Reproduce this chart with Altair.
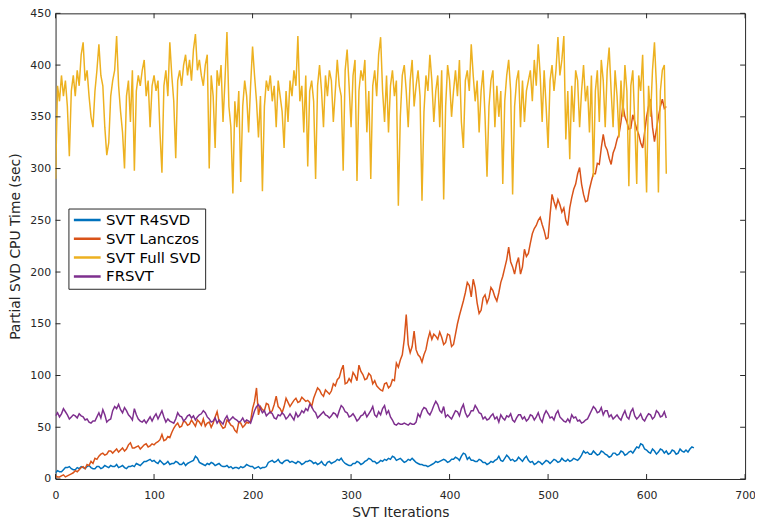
import altair as alt
import pandas as pd

# ---- data (one value every few iterations) ----
series_names = ["SVT R4SVD", "SVT Lanczos", "SVT Full SVD", "FRSVT"]
series_colors = ["#0072BD", "#D95319", "#EDB120", "#7E2F8E"]

r4svd_step = 2
r4svd = [6, 8, 7, 7, 9, 11, 11, 12, 10, 9, 9, 11, 10, 12, 11, 10, 12, 13, 11, 10,
         10, 12, 12, 10, 11, 13, 12, 11, 13, 12, 12, 14, 11, 12, 13, 11, 10, 12, 12, 13,
         12, 15, 14, 13, 15, 17, 17, 18, 19, 17, 18, 16, 15, 18, 16, 14, 15, 17, 14, 15,
         15, 17, 16, 14, 14, 16, 13, 15, 16, 17, 18, 22, 20, 16, 15, 14, 13, 15, 14, 16,
         15, 13, 14, 15, 13, 12, 12, 13, 11, 12, 10, 11, 11, 10, 12, 11, 12, 14, 13, 12,
         12, 10, 11, 12, 10, 11, 11, 12, 16, 17, 18, 16, 17, 19, 16, 15, 17, 18, 18, 16,
         17, 16, 15, 17, 16, 14, 15, 17, 17, 18, 17, 15, 16, 14, 15, 17, 14, 13, 16, 17,
         15, 16, 17, 19, 18, 20, 17, 15, 14, 13, 13, 15, 15, 17, 16, 14, 15, 17, 18, 20,
         19, 17, 17, 15, 16, 18, 17, 19, 18, 20, 19, 22, 21, 18, 19, 20, 18, 16, 17, 19,
         18, 20, 18, 16, 15, 14, 14, 13, 13, 12, 13, 14, 15, 17, 16, 17, 18, 19, 18, 16,
         17, 19, 19, 21, 20, 18, 22, 25, 24, 19, 21, 18, 18, 17, 17, 19, 18, 16, 16, 14,
         15, 17, 16, 18, 19, 22, 18, 17, 20, 23, 21, 18, 19, 17, 18, 21, 19, 17, 20, 22,
         18, 16, 17, 14, 15, 17, 16, 14, 16, 18, 17, 15, 17, 19, 18, 16, 17, 20, 18, 17,
         19, 17, 18, 20, 19, 18, 20, 23, 27, 25, 26, 24, 24, 27, 25, 23, 24, 27, 26, 24,
         23, 21, 22, 25, 25, 23, 24, 27, 26, 23, 24, 26, 27, 25, 28, 31, 30, 34, 33, 29,
         28, 26, 25, 29, 27, 24, 26, 29, 28, 25, 27, 24, 25, 28, 27, 24, 25, 29, 27, 26,
         28, 26, 29, 31, 30]

lanczos_step = 2
lanczos = [3, 2, 2, 3, 4, 2, 3, 4, 5, 6,
           8, 7, 9, 11, 12, 10, 14, 13, 17, 15,
           20, 19, 22, 24, 25, 23, 24, 27, 27, 25,
           27, 29, 26, 28, 30, 27, 29, 33, 35, 30,
           30, 31, 32, 29, 31, 33, 34, 31, 32, 34,
           33, 35, 36, 38, 43, 37, 38, 41, 40, 45,
           49, 52, 54, 50, 51, 56, 55, 52, 53, 57,
           54, 51, 57, 55, 52, 58, 51, 54, 55, 50,
           54, 60, 65, 56, 52, 49, 50, 57, 55, 52,
           51, 47, 45, 55, 54, 50, 52, 55, 54, 56,
           68, 75, 88, 62, 70, 67, 66, 73, 72, 64,
           66, 72, 80, 70, 68, 64, 70, 78, 74, 70,
           73, 76, 78, 74, 75, 79, 77, 75, 76, 74,
           70, 78, 83, 88, 86, 82, 80, 86, 84, 82,
           85, 92, 90, 96, 98, 105, 110, 92, 93, 97,
           94, 103, 100, 95, 110, 104, 101, 96, 97, 102,
           100, 92, 95, 90, 88, 86, 85, 92, 93, 88,
           90, 96, 95, 112, 108, 115, 120, 135, 159, 130,
           122, 128, 143, 125, 120, 118, 113, 120, 125, 135,
           142, 135, 140, 138, 135, 142, 137, 130, 132, 140,
           139, 128, 130, 140, 150, 158, 165, 172, 180, 190,
           187, 176, 193, 185, 170, 160, 163, 175, 178, 170,
           175, 185, 182, 176, 172, 180, 190, 196, 204, 212,
           224, 210, 205, 198, 208, 214, 198, 205, 222, 215,
           218, 228, 237, 242, 245, 250, 253, 246, 240, 232,
           233, 255, 275, 268, 262, 270, 265, 258, 262, 250,
           245, 262, 272, 280, 285, 295, 301, 285, 275, 268,
           269, 280, 288, 295, 295, 305, 304, 320, 333, 322,
           318, 310, 304, 315, 320, 328, 333, 345, 361, 350,
           345, 338, 339, 352, 345, 338, 333, 325, 320, 335,
           350, 360, 367, 340, 326, 338, 350, 360, 367, 358,
           360]

fullsvd_step = 2
fullsvd = [290, 380, 365, 390, 370, 385, 360, 312, 375, 390,
           370, 395, 380, 410, 422, 385, 395, 370, 350, 340,
           375, 395, 420, 390, 380, 340, 313, 325, 370, 385,
           395, 428, 380, 355, 335, 300, 370, 385, 345, 395,
           298, 375, 390, 380, 395, 405, 370, 385, 340, 380,
           390, 375, 385, 335, 296, 380, 395, 370, 422, 390,
           365, 310, 385, 395, 380, 400, 410, 390, 405, 385,
           415, 430, 395, 405, 390, 380, 400, 410, 300, 390,
           370, 320, 395, 380, 400, 345, 385, 432, 360, 340,
           276, 365, 340, 375, 287, 360, 385, 370, 335, 380,
           418, 390, 365, 330, 370, 278, 360, 385, 375, 390,
           365, 380, 340, 385, 370, 355, 320, 375, 345, 385,
           370, 395, 380, 428, 365, 380, 335, 390, 302, 375,
           385, 365, 290, 380, 400, 375, 340, 390, 370, 395,
           385, 345, 375, 405, 380, 370, 298, 395, 415, 380,
           340, 390, 405, 288, 375, 395, 385, 405, 335, 375,
           290, 380, 395, 370, 410, 427, 375, 345, 390, 335,
           380, 395, 370, 385, 264, 350, 390, 400, 375, 340,
           385, 405, 360, 380, 395, 370, 269, 355, 390, 375,
           410, 385, 345, 375, 390, 340, 395, 270, 360, 400,
           385, 350, 375, 395, 370, 405, 345, 320, 385, 395,
           375, 420, 390, 365, 385, 335, 375, 395, 350, 292,
           360, 385, 395, 340, 380, 350, 375, 285, 365, 390,
           405, 375, 275, 360, 385, 395, 340, 385, 345, 375,
           385, 395, 365, 405, 380, 420, 390, 345, 395, 360,
           320, 385, 400, 375, 395, 427, 390, 405, 428, 328,
           375, 309, 380, 345, 395, 385, 340, 375, 400, 365,
           380, 335, 390, 292, 375, 395, 345, 405, 385, 340,
           395, 417, 375, 340, 395, 370, 330, 385, 350, 400,
           375, 283, 380, 395, 345, 285, 390, 375, 410, 340,
           277, 380, 350, 395, 422, 380, 277, 375, 395, 400,
           295]

frsvt_step = 2
frsvt = [61, 64, 60, 63, 68, 65, 62, 58, 60, 62, 61, 59, 63, 61, 60, 57, 58, 55, 54, 56,
         56, 60, 64, 59, 67, 62, 55, 57, 58, 66, 70, 68, 72, 67, 64, 69, 66, 62, 60, 57,
         68, 62, 58, 56, 55, 57, 54, 57, 60, 56, 60, 63, 58, 62, 66, 60, 55, 58, 56, 55,
         54, 58, 64, 61, 60, 56, 58, 61, 62, 59, 61, 57, 60, 62, 63, 66, 64, 60, 58, 55,
         56, 59, 54, 57, 55, 53, 58, 61, 56, 58, 60, 58, 57, 55, 56, 59, 55, 57, 56, 54,
         60, 66, 70, 72, 68, 64, 66, 61, 63, 65, 63, 59, 58, 62, 61, 64, 62, 58, 60, 63,
         60, 57, 64, 60, 62, 66, 64, 68, 66, 72, 70, 66, 64, 59, 61, 63, 65, 62, 61, 59,
         61, 64, 63, 60, 66, 71, 69, 65, 64, 60, 61, 63, 60, 56, 58, 61, 62, 65, 60, 63,
         66, 70, 62, 60, 65, 62, 68, 71, 63, 66, 60, 57, 53, 52, 54, 53, 53, 54, 53, 52,
         54, 53, 53, 55, 63, 60, 66, 69, 68, 64, 62, 66, 71, 75, 72, 66, 64, 70, 60, 62,
         60, 58, 62, 66, 65, 61, 68, 72, 64, 60, 62, 66, 66, 71, 68, 64, 63, 58, 60, 57,
         58, 61, 63, 58, 60, 55, 62, 59, 57, 61, 60, 63, 57, 55, 59, 62, 62, 58, 60, 56,
         58, 62, 61, 57, 60, 64, 58, 55, 62, 66, 63, 59, 60, 57, 63, 66, 60, 58, 56, 55,
         58, 55, 62, 59, 60, 56, 57, 54, 55, 57, 58, 62, 66, 70, 68, 64, 65, 69, 62, 66,
         66, 60, 62, 58, 60, 62, 59, 57, 62, 66, 60, 58, 65, 68, 61, 58, 60, 63, 58, 56,
         60, 63, 62, 58, 60, 66, 64, 60, 61, 65, 59]

x_ticks = [0, 100, 200, 300, 400, 500, 600, 700]
y_ticks = [0, 50, 100, 150, 200, 250, 300, 350, 400, 450]

# ---- build table ----
rows = []
for name, vals, step in [("SVT R4SVD", r4svd, r4svd_step),
                         ("SVT Lanczos", lanczos, lanczos_step),
                         ("SVT Full SVD", fullsvd, fullsvd_step),
                         ("FRSVT", frsvt, frsvt_step)]:
    for i, v in enumerate(vals):
        rows.append({"series": name, "iter": i * step, "time": v})
df = pd.DataFrame(rows)

W, H = 696, 470
AX = "#262626"
FONT = "DejaVu Sans"

xscale = alt.Scale(domain=[0, 700], nice=False, zero=False)
yscale = alt.Scale(domain=[0, 450], nice=False, zero=False)
cscale = alt.Scale(domain=series_names, range=series_colors)

x_axis = alt.Axis(title="SVT Iterations", values=x_ticks, grid=False, ticks=False,
                  tickSize=0, domain=False, labelFontSize=11, labelFont=FONT,
                  labelColor=AX, labelPadding=11, titleFont=FONT, titleFontSize=14,
                  titleFontWeight="normal", titleColor=AX, titleY=34,
                  titleBaseline="middle", labelFlush=False)
y_axis = alt.Axis(title="Partial SVD CPU Time (sec)", values=y_ticks, grid=False,
                  ticks=False, tickSize=0, domain=False, labelFontSize=11,
                  labelFont=FONT, labelColor=AX, labelPadding=5, titleFont=FONT,
                  titleFontSize=14, titleFontWeight="normal", titleColor=AX,
                  titleX=-40, titleY=235, titleBaseline="middle", labelFlush=False)

legend = alt.Legend(title=None, orient="none", legendX=13, legendY=197, symbolType="stroke",
                    symbolSize=729, symbolStrokeWidth=2.5, labelFont=FONT, labelFontSize=15,
                    labelColor="#000000", labelOffset=4, clipHeight=15, rowPadding=3,
                    padding=4, strokeColor=AX, fillColor="#ffffff", cornerRadius=0)

layers = []
for k, name in enumerate(series_names):
    layers.append(
        alt.Chart(df).transform_filter(alt.datum.series == name)
        .mark_line(strokeWidth=1.5, clip=True)
        .encode(
            x=alt.X("iter:Q", scale=xscale, axis=x_axis),
            y=alt.Y("time:Q", scale=yscale, axis=y_axis),
            color=alt.Color("series:N", scale=cscale, legend=legend),
        )
    )

tick_y = pd.DataFrame({"time": y_ticks})
tick_x = pd.DataFrame({"iter": x_ticks})
tick_style = dict(color=AX, strokeWidth=1)
ticks_left = alt.Chart(tick_y).mark_rule(**tick_style).encode(
    y=alt.Y("time:Q", scale=yscale, axis=y_axis), x=alt.value(0), x2=alt.value(5))
ticks_right = alt.Chart(tick_y).mark_rule(**tick_style).encode(
    y=alt.Y("time:Q", scale=yscale, axis=y_axis), x=alt.value(W), x2=alt.value(W - 5))
ticks_bottom = alt.Chart(tick_x).mark_rule(**tick_style).encode(
    x=alt.X("iter:Q", scale=xscale, axis=x_axis), y=alt.value(H), y2=alt.value(H - 5))
ticks_top = alt.Chart(tick_x).mark_rule(**tick_style).encode(
    x=alt.X("iter:Q", scale=xscale, axis=x_axis), y=alt.value(0), y2=alt.value(5))

chart = alt.layer(*layers, ticks_left, ticks_right, ticks_bottom, ticks_top).properties(
    width=W, height=H,
    autosize=alt.AutoSizeParams(type="none"),
    padding={"left": 48, "top": 3, "right": 10, "bottom": 40},
    background="#ffffff",
).configure_view(stroke=AX, strokeWidth=1)

chart.save("out.html", embed_options={"renderer": "svg", "actions": False})
